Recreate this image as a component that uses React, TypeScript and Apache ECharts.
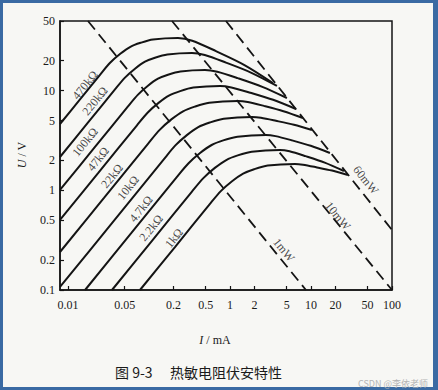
import React, { useEffect, useRef } from 'react';
import * as echarts from 'echarts';

// Axis ticks (I in mA, U in V)
const xTickValues = [0.01, 0.05, 0.2, 0.5, 1, 2, 5, 10, 20, 50, 100];
const xTickLabels = ['0.01', '0.05', '0.2', '0.5', '1', '2', '5', '10', '20', '50', '100'];
const yTickValues = [0.1, 0.2, 0.5, 1, 2, 5, 10, 20, 50];
const yTickLabels = ['0.1', '0.2', '0.5', '1', '2', '5', '10', '20', '50'];

// Thermistor U–I curves, points [I mA, U V]
const curve470k = [[0.00794, 4.63], [0.01403, 8.17], [0.02477, 14.42], [0.033, 19.03], [0.0441, 23.43], [0.0588, 27.55], [0.0786, 30.21], [0.1117, 32.61], [0.2274, 33.76], [0.3414, 31.72], [0.6697, 24.94], [1.506, 18.09], [3.385, 11.94]];
const curve220k = [[0.00794, 2.16], [0.01736, 4.716], [0.03793, 10.29], [0.0504, 13.52], [0.067, 16.61], [0.089, 19.53], [0.1182, 21.41], [0.1682, 23.06], [0.3385, 23.87], [0.4872, 22.79], [0.8902, 19.11], [1.837, 15.11], [3.793, 11.14]];
const curve100k = [[0.00794, 1.008], [0.02088, 2.647], [0.0549, 6.952], [0.073, 9.129], [0.0969, 11.21], [0.1288, 13.18], [0.1712, 14.46], [0.2435, 15.57], [0.4899, 16.12], [0.695, 15.5], [1.245, 13.37], [2.505, 10.93], [5.041, 8.44]];
const curve47k = [[0.00794, 0.504], [0.02373, 1.503], [0.0709, 4.493], [0.0964, 6.039], [0.131, 7.539], [0.1781, 8.963], [0.2421, 9.899], [0.3524, 10.73], [0.7504, 11.14], [1.038, 10.78], [1.781, 9.539], [3.405, 8.095], [6.511, 6.546]];
const curve22k = [[0.00794, 0.2406], [0.02775, 0.8395], [0.0969, 2.93], [0.1352, 4.04], [0.1885, 5.148], [0.2629, 6.208], [0.3666, 6.92], [0.5521, 7.573], [1.252, 7.876], [1.654, 7.696], [2.621, 7.033], [4.563, 6.222], [7.943, 5.317]];
const curve10k = [[0.00794, 0.1072], [0.03483, 0.4691], [0.1528, 2.057], [0.2112, 2.823], [0.2929, 3.582], [0.405, 4.309], [0.5616, 4.793], [0.8361, 5.232], [1.864, 5.441], [2.407, 5.342], [3.687, 4.984], [6.151, 4.545], [10.26, 4.031]];
const curve4k7 = [[0.0162, 0.1], [0.0598, 0.3698], [0.221, 1.367], [0.3074, 1.872], [0.4263, 2.369], [0.5926, 2.85], [0.8241, 3.17], [1.234, 3.452], [2.775, 3.59], [3.645, 3.5], [5.745, 3.184], [9.915, 2.797], [17.12, 2.369]];
const curve2k2 = [[0.03483, 0.1], [0.1086, 0.3116], [0.3385, 0.971], [0.4682, 1.326], [0.6491, 1.679], [0.8978, 2.015], [1.245, 2.241], [1.853, 2.441], [4.13, 2.539], [5.428, 2.464], [8.551, 2.205], [14.76, 1.898], [25.48, 1.563]];
const curve1k = [[0.0772, 0.1], [0.2088, 0.27], [0.5648, 0.7311], [0.7743, 0.987], [1.058, 1.235], [1.451, 1.472], [1.984, 1.629], [2.92, 1.771], [6.328, 1.837], [7.943, 1.808], [11.56, 1.706], [18.17, 1.578], [28.55, 1.425]];

const curveNames = ['470kΩ', '220kΩ', '100kΩ', '47kΩ', '22kΩ', '10kΩ', '4.7kΩ', '2.2kΩ', '1kΩ'];
const curveData = [curve470k, curve220k, curve100k, curve47k, curve22k, curve10k, curve4k7, curve2k2, curve1k];
// label anchor points [I, U]
const curveLabelPos = [[0.0162, 11.4], [0.0215, 7.88], [0.0162, 3.05], [0.0234, 2.06], [0.0348, 1.39], [0.0549, 1.06], [0.0794, 0.65], [0.106, 0.419], [0.203, 0.332]];

// constant-power dashed lines, end points [I, U]
const powerNames = ['1mW', '10mW', '60mW'];
const line1mW = [[0.0176, 50], [8.65, 0.1]];
const line10mW = [[0.192, 50], [100, 0.1]];
const line60mW = [[0.89, 50], [100, 0.4]];
const powerLines = [line1mW, line10mW, line60mW];
const powerLabelPos = [[4.63, 0.252], [21.5, 0.553], [47.6, 1.27]];

const X_MIN = -2.1;
const X_MAX = 2.0;
const Y_MIN = -1;
const Y_MAX = Math.log10(50);

const toLog = (pts: number[][]) => pts.map(([i, u]) => [Math.log10(i), Math.log10(u)]);
const SERIF = '"Liberation Serif", "DejaVu Serif", serif';
const INK = '#141414';

function fmt(values: number[], labels: string[]) {
  return (v: number) => {
    const idx = values.findIndex((t) => Math.abs(Math.log10(t) - v) < 1e-6);
    return idx >= 0 ? labels[idx] : '';
  };
}

export default function App() {
  const ref = useRef<HTMLDivElement>(null);
  useEffect(() => {
    if (!ref.current) return;
    const chart = echarts.init(ref.current, undefined, { renderer: 'svg' });
    const series: any[] = [];
    curveData.forEach((c, i) => {
      series.push({
        name: curveNames[i],
        type: 'line',
        data: toLog(c),
        smooth: 0.3,
        symbol: 'none',
        silent: true,
        lineStyle: { color: INK, width: 2 },
        z: 3,
      });
    });
    powerLines.forEach((l, i) => {
      series.push({
        name: powerNames[i],
        type: 'line',
        data: toLog(l),
        symbol: 'none',
        silent: true,
        lineStyle: { color: INK, width: 1.8, type: [11, 6] },
        z: 2,
      });
    });
    const labelStyle = (rotate: number) => ({
      show: true, position: 'inside', formatter: '{b}', rotate,
      fontFamily: SERIF, fontSize: 12, color: INK,
      textBorderWidth: 0, textBorderColor: 'transparent', textShadowBlur: 0,
    });
    series.push({
      type: 'scatter',
      symbolSize: 1,
      itemStyle: { color: 'transparent' },
      silent: true,
      data: curveLabelPos.map((p, i) => ({ value: [Math.log10(p[0]), Math.log10(p[1])], name: curveNames[i] })),
      label: labelStyle(51),
      z: 4,
    });
    series.push({
      type: 'scatter',
      symbolSize: 1,
      itemStyle: { color: 'transparent' },
      silent: true,
      data: powerLabelPos.map((p, i) => ({ value: [Math.log10(p[0]), Math.log10(p[1])], name: powerNames[i] })),
      label: labelStyle(-51),
      z: 4,
    });

    chart.setOption({
      animation: false,
      color: [INK],
      grid: { left: 60, top: 21, width: 332, height: 269, show: true, borderColor: INK, borderWidth: 1.5, backgroundColor: 'transparent' },
      xAxis: {
        type: 'value', min: X_MIN, max: X_MAX,
        axisLine: { show: true, onZero: false, lineStyle: { color: INK, width: 1.5 } },
        axisTick: { show: true, inside: true, length: 4, customValues: xTickValues.map((v) => Math.log10(v)), lineStyle: { color: INK, width: 1.2 } },
        axisLabel: { customValues: xTickValues.map((v) => Math.log10(v)), formatter: fmt(xTickValues, xTickLabels), margin: 9, fontFamily: SERIF, fontSize: 12, color: '#1a1a1a' },
        splitLine: { show: false },
      },
      yAxis: {
        type: 'value', min: Y_MIN, max: Y_MAX,
        axisLine: { show: true, onZero: false, lineStyle: { color: INK, width: 1.5 } },
        axisTick: { show: true, inside: true, length: 4, customValues: yTickValues.map((v) => Math.log10(v)), lineStyle: { color: INK, width: 1.2 } },
        axisLabel: { customValues: yTickValues.map((v) => Math.log10(v)), formatter: fmt(yTickValues, yTickLabels), margin: 5, fontFamily: SERIF, fontSize: 12, color: '#1a1a1a' },
        splitLine: { show: false },
      },
      series,
      graphic: [
        {
          type: 'text', x: 22, y: 155, rotation: Math.PI / 2, silent: true,
          style: {
            text: '{i|U} / V', align: 'center', verticalAlign: 'middle',
            fontFamily: SERIF, fontSize: 12, fill: '#1a1a1a',
            rich: { i: { fontStyle: 'italic', fontFamily: SERIF, fontSize: 12, fill: '#1a1a1a' } },
          },
        },
        {
          type: 'text', x: 215, y: 340, silent: true,
          style: {
            text: '{i|I} / mA', align: 'center', verticalAlign: 'middle',
            fontFamily: SERIF, fontSize: 12, fill: '#1a1a1a',
            rich: { i: { fontStyle: 'italic', fontFamily: SERIF, fontSize: 12, fill: '#1a1a1a' } },
          },
        },
        {
          type: 'text', x: 115, y: 372, silent: true,
          style: { text: '图 9-3', verticalAlign: 'middle', fontFamily: '"Noto Sans CJK SC", sans-serif', fontSize: 14, fill: '#1a1a1a' },
        },
        {
          type: 'text', x: 170, y: 372, silent: true,
          style: { text: '热敏电阻伏安特性', verticalAlign: 'middle', fontFamily: '"Noto Sans CJK SC", sans-serif', fontSize: 14, fill: '#1a1a1a' },
        },
        {
          type: 'text', x: 358, y: 383, silent: true,
          style: { text: 'CSDN @李依老师', verticalAlign: 'middle', fontFamily: '"Noto Sans CJK SC", sans-serif', fontSize: 9, fill: '#b4b4b4' },
        },
      ],
    });
    return () => chart.dispose();
  }, []);

  return (
    <div style={{ position: 'absolute', left: 0, top: 0, width: 438, height: 390, background: '#3a6aa3' }}>
      <div style={{ position: 'absolute', left: 3, top: 3, width: 430, height: 384, background: '#f7f7f4' }} />
      <div ref={ref} style={{ position: 'absolute', left: 0, top: 0, width: 438, height: 390 }} />
    </div>
  );
}
